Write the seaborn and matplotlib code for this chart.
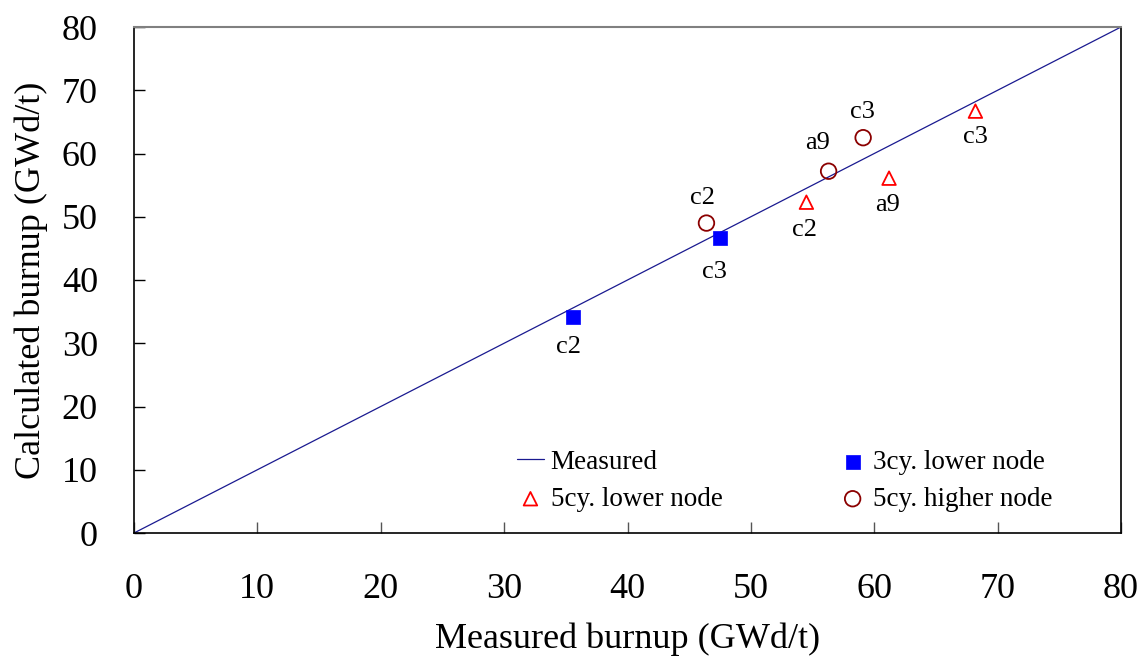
import matplotlib
matplotlib.use("Agg")
import matplotlib.pyplot as plt
import seaborn as sns

# Data
line_x = [0, 80]
line_y = [0, 80]

sq_labels = ["c2", "c3"]
sq_meas = [35.6, 47.5]
sq_calc = [34.2, 46.6]

tri_labels = ["c2", "a9", "c3"]
tri_meas = [54.5, 61.2, 68.2]
tri_calc = [52.3, 56.1, 66.7]

cir_labels = ["c2", "a9", "c3"]
cir_meas = [46.4, 56.3, 59.1]
cir_calc = [49.0, 57.2, 62.5]

ticks = [0, 10, 20, 30, 40, 50, 60, 70, 80]

sns.set_theme(style="white")
plt.rcParams["font.family"] = ["Liberation Serif", "DejaVu Serif"]
plt.rcParams["text.color"] = "black"
plt.rcParams["axes.labelcolor"] = "black"
plt.rcParams["xtick.color"] = "black"
plt.rcParams["ytick.color"] = "black"

fig = plt.figure(figsize=(11.39, 6.66), dpi=100)
ax = fig.add_axes([134 / 1139, 1 - 533 / 666, 987 / 1139, 506 / 666])

sns.lineplot(x=line_x, y=line_y, ax=ax, color="#1a1a90", linewidth=0.9, label="Measured")
sns.scatterplot(x=sq_meas, y=sq_calc, ax=ax, marker="s", s=105, color="#0000ff",
                edgecolor="#0000ff", linewidth=0.5, label="3cy. lower node", zorder=3)
sns.scatterplot(x=tri_meas, y=tri_calc, ax=ax, marker="^", s=95, facecolors="none",
                edgecolor="#ff0000", linewidth=1.3, label="5cy. lower node", zorder=3)
sns.scatterplot(x=cir_meas, y=cir_calc, ax=ax, marker="o", s=125, facecolors="none",
                edgecolor="#8b0000", linewidth=1.3, label="5cy. higher node", zorder=3)

ann_fs = 19
sq_off = [(-5, -30), (-6, -34)]
for (lab, xv, yv, off) in zip(sq_labels, sq_meas, sq_calc, sq_off):
    ax.annotate(lab, (xv, yv), xytext=off, textcoords="offset pixels",
                ha="center", va="center", fontsize=ann_fs, color="black")
tri_off = [(-2, -28), (-1, -27), (0, -26)]
for (lab, xv, yv, off) in zip(tri_labels, tri_meas, tri_calc, tri_off):
    ax.annotate(lab, (xv, yv), xytext=off, textcoords="offset pixels",
                ha="center", va="center", fontsize=ann_fs, color="black")
cir_off = [(-4, 25), (-11, 28), (-1, 26)]
for (lab, xv, yv, off) in zip(cir_labels, cir_meas, cir_calc, cir_off):
    ax.annotate(lab, (xv, yv), xytext=off, textcoords="offset pixels",
                ha="center", va="center", fontsize=ann_fs, color="black")

ax.set_xlim(0, 80)
ax.set_ylim(0, 80)
ax.set_xticks(ticks)
ax.set_yticks(ticks)
ax.tick_params(axis="both", which="both", direction="in", length=8, width=1,
               labelsize=26, bottom=True, left=True, top=False, right=False)
ax.tick_params(axis="x", pad=29, color="#555555", labelcolor="black")
ax.tick_params(axis="y", pad=26, color="black", labelcolor="black")
for side in ["left", "bottom", "right"]:
    ax.spines[side].set_color("black")
    ax.spines[side].set_linewidth(1.2)
ax.spines["top"].set_color("#808080")
ax.spines["top"].set_linewidth(1.5)

ax.set_xlabel("Measured burnup (GWd/t)", fontsize=26, labelpad=12)
ax.set_ylabel("Calculated burnup (GWd/t)", fontsize=26, labelpad=10)

handles, labels = ax.get_legend_handles_labels()
order = [0, 2, 1, 3]
ax.legend([handles[i] for i in order], [labels[i] for i in order], ncol=2,
          loc="lower left", bbox_to_anchor=(0.366, -0.001), frameon=False,
          fontsize=19.5, columnspacing=4.3, handlelength=1.0, handletextpad=0.25,
          labelspacing=0.45, borderpad=0.3)

fig.savefig("out.png", dpi=100)
